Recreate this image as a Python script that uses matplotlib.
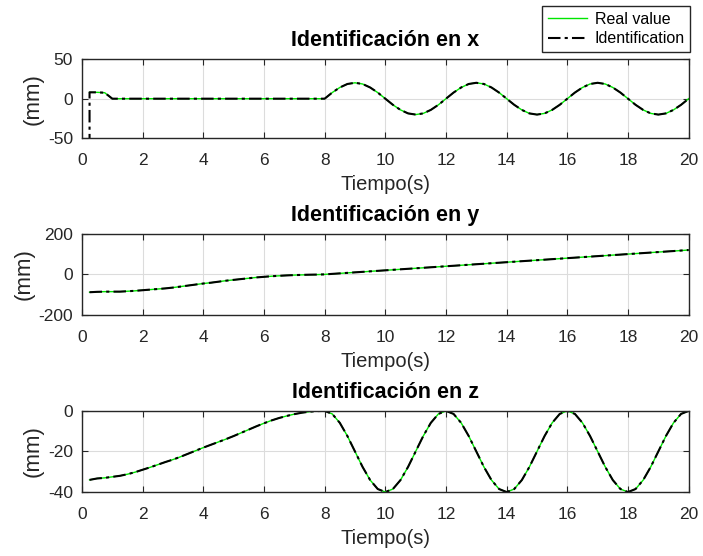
import numpy as np
import matplotlib
matplotlib.use('Agg')
import matplotlib.pyplot as plt

plt.rcParams['font.family'] = ['Liberation Sans', 'DejaVu Sans']
plt.rcParams['font.size'] = 12
plt.rcParams['axes.unicode_minus'] = False

# sample times (s)
t = np.arange(0.25, 20.001, 0.25)

# position along x (mm), one value every 0.25 s
x_real = [8, 8, 7.5, 0, 0, 0, 0, 0, 0, 0, 0, 0, 0, 0, 0, 0,
          0, 0, 0, 0, 0, 0, 0, 0, 0, 0, 0, 0, 0, 0, 0, 0,
          7.7, 14.1, 18.5, 20, 18.5, 14.1, 7.7, 0,
          -7.7, -14.1, -18.5, -20, -18.5, -14.1, -7.7, 0,
          7.7, 14.1, 18.5, 20, 18.5, 14.1, 7.7, 0,
          -7.7, -14.1, -18.5, -20, -18.5, -14.1, -7.7, 0,
          7.7, 14.1, 18.5, 20, 18.5, 14.1, 7.7, 0,
          -7.7, -14.1, -18.5, -20, -18.5, -14.1, -7.7, 0]
# the estimator starts far below before locking on
x_ident_start = [-60]

# position along y (mm)
y_real = [-88, -86, -85, -85, -85, -83, -81, -78, -75, -72, -69, -65,
          -60, -55, -50, -45, -41, -36, -31, -27, -23, -19, -15, -12,
          -9, -7, -5, -3.5, -2.5, -1.5, -1, 0,
          2.5, 5, 7.5, 10, 12.5, 15, 17.5, 20, 22.5, 25, 27.5, 30,
          32.5, 35, 37.5, 40, 42.5, 45, 47.5, 50, 52.5, 55, 57.5, 60,
          62.5, 65, 67.5, 70, 72.5, 75, 77.5, 80, 82.5, 85, 87.5, 90,
          92.5, 95, 97.5, 100, 102.5, 105, 107.5, 110, 112.5, 115, 117.5, 120]

# position along z (mm)
z_real = [-34, -33.3, -33, -32.5, -32, -31.2, -30.2, -29, -27.8, -26.5,
          -25.2, -24, -22.6, -21.1, -19.6, -18.1, -16.7, -15.3, -13.9, -12.4,
          -10.8, -9.2, -7.6, -6.1, -4.7, -3.5, -2.5, -1.6, -0.9, -0.4, -0.1, 0,
          -1.5, -5.9, -12.4, -20, -27.6, -34.1, -38.5, -40,
          -38.5, -34.1, -27.6, -20, -12.4, -5.9, -1.5, 0,
          -1.5, -5.9, -12.4, -20, -27.6, -34.1, -38.5, -40,
          -38.5, -34.1, -27.6, -20, -12.4, -5.9, -1.5, 0,
          -1.5, -5.9, -12.4, -20, -27.6, -34.1, -38.5, -40,
          -38.5, -34.1, -27.6, -20, -12.4, -5.9, -1.5, 0]

titles = ['Identificación en x', 'Identificación en y', 'Identificación en z']
ylims = [(-50, 50), (-200, 200), (-40, 0)]
yticks = [[-50, 0, 50], [-200, 0, 200], [-40, -20, 0]]

fg = '#262626'
green = '#00e600'

fig = plt.figure(figsize=(7.03, 5.56), dpi=100)
boxes = [[0.1166, 0.751, 0.863, 0.143],
         [0.1166, 0.4335, 0.863, 0.146],
         [0.1166, 0.115, 0.863, 0.146]]

series = [
    (t, x_real, np.r_[t[0], t], np.r_[x_ident_start, x_real]),
    (t, y_real, t, y_real),
    (t, z_real, t, z_real),
]

for i, (tr, yr, ti, yi) in enumerate(series):
    ax = fig.add_axes(boxes[i])
    ax.plot(tr, yr, color=green, lw=1.0, label='Real value')
    ax.plot(ti, yi, color='black', lw=1.5, linestyle=(0, (6, 2, 1.5, 2)),
            label='Identification')
    ax.set_xlim(0, 20)
    ax.set_ylim(*ylims[i])
    ax.set_xticks(np.arange(0, 21, 2))
    ax.set_yticks(yticks[i])
    ax.grid(True, color='#dcdcdc', lw=0.8)
    ax.set_axisbelow(True)
    ax.tick_params(direction='in', top=True, right=True, length=4,
                   colors=fg, labelsize=12.5)
    ax.tick_params(axis='x', pad=10.5)
    ax.tick_params(axis='y', pad=6.5)
    for s in ax.spines.values():
        s.set_color(fg)
        s.set_linewidth(1.0)
    ax.set_xlabel('Tiempo(s)', fontsize=14.5, color=fg, labelpad=5)
    ax.set_ylabel('(mm)', fontsize=16, color=fg, labelpad=3)
    ax.set_title(titles[i], fontsize=15.5, fontweight='bold', color='black', pad=9)
    if i == 0:
        leg = fig.legend(loc='upper right', bbox_to_anchor=(0.982, 0.989),
                         fontsize=11.5, frameon=True, fancybox=False,
                         framealpha=1, edgecolor=fg, handlelength=2.5,
                         borderaxespad=0, borderpad=0.35, labelspacing=0.3,
                         handletextpad=0.45)
        leg.get_frame().set_linewidth(1.0)

fig.savefig('out.png', dpi=100)
